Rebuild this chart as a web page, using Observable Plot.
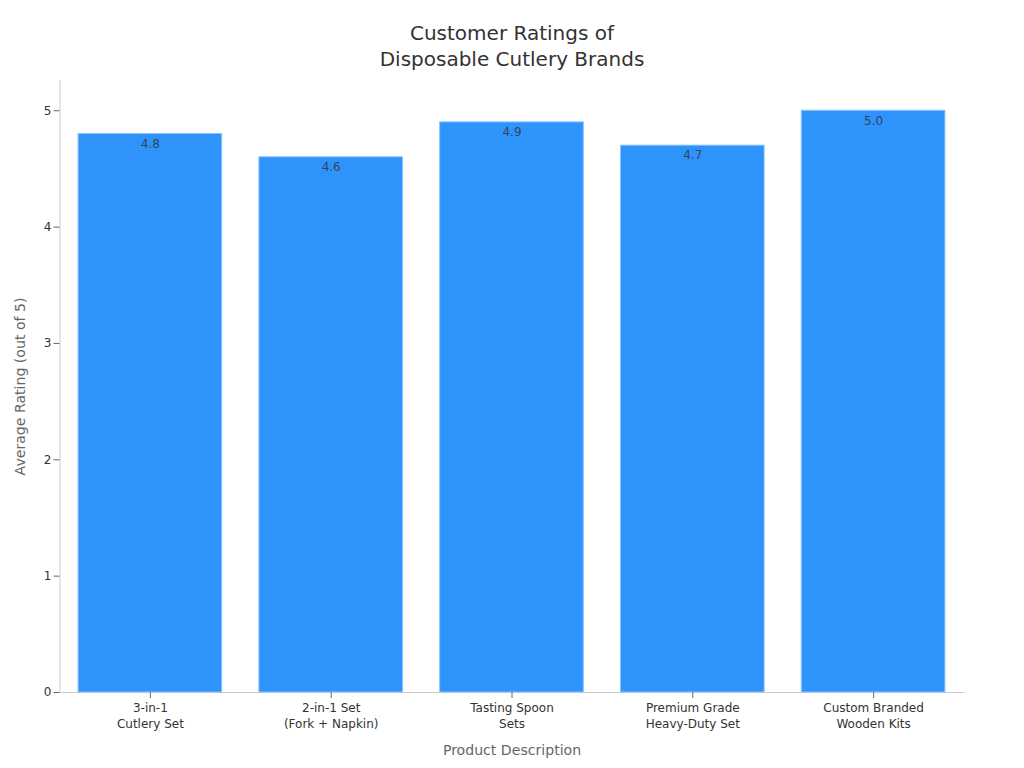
<!DOCTYPE html>
<html>
<head>
<meta charset="utf-8">
<script src="https://cdn.jsdelivr.net/npm/d3@7"></script>
<script src="https://cdn.jsdelivr.net/npm/@observablehq/plot@0.6"></script>
<style>
html,body{margin:0;padding:0;background:#fff;}
#wrap{width:1024px;height:768px;overflow:hidden;font-family:"DejaVu Sans",sans-serif;}
h1{margin:0;height:80px;box-sizing:border-box;padding-top:20px;font-size:20px;line-height:26px;font-weight:400;text-align:center;color:#333;}
svg{display:block;}
</style>
</head>
<body>
<div id="wrap"><h1>Customer Ratings of<br>Disposable Cutlery Brands</h1></div>
<script>
const categories = ["3-in-1\nCutlery Set","2-in-1 Set\n(Fork + Napkin)","Tasting Spoon\nSets","Premium Grade\nHeavy-Duty Set","Custom Branded\nWooden Kits"];
const ratings = [4.8,4.6,4.9,4.7,5.0];
const yTicks = [0,1,2,3,4,5];
const xLabel = "Product Description";
const yLabel = "Average Rating (out of 5)";
const rows = categories.map((c,i)=>({c,v:ratings[i]}));

const chart = Plot.plot({
  width:1024,height:688,
  marginTop:0,marginBottom:76,marginLeft:59.5,marginRight:60.5,
  style:{fontFamily:"DejaVu Sans",fontSize:"12px",background:"#fff",overflow:"visible"},
  x:{type:"band",domain:categories,paddingInner:0.2,paddingOuter:0.1,align:0.5,round:false},
  y:{domain:[0,5.26]},
  marks:[
    Plot.frame({anchor:"left",stroke:"#cccccc"}),
    Plot.frame({anchor:"bottom",stroke:"#cccccc"}),
    Plot.barY(rows,{x:"c",y:"v",fill:"#2e93fa",stroke:"#8cc3fb",strokeWidth:1,insetLeft:0.5,insetRight:0.5}),
    Plot.text(rows,{x:"c",y:"v",text:d=>d.v.toFixed(1),dy:10,fill:"#333",fillOpacity:0.85,fontSize:12}),
    Plot.axisY({ticks:yTicks,tickSize:6,tickPadding:2.5,stroke:"#666",color:"#333",fontSize:12,label:null,tickFormat:d=>d}),
    Plot.axisX({tickSize:6,tickPadding:2,stroke:"#666",color:"#333",fontSize:12,label:null,lineHeight:1.33,tickFormat:d=>d}),
    Plot.text([xLabel],{frameAnchor:"bottom",dy:62,text:d=>d,fontSize:14.1,fill:"#666"}),
    Plot.text([yLabel],{frameAnchor:"left",textAnchor:"middle",dx:-39.5,rotate:-90,text:d=>d,fontSize:14.1,fill:"#666"})
  ]
});
document.getElementById("wrap").appendChild(chart);
</script>
</body>
</html>
